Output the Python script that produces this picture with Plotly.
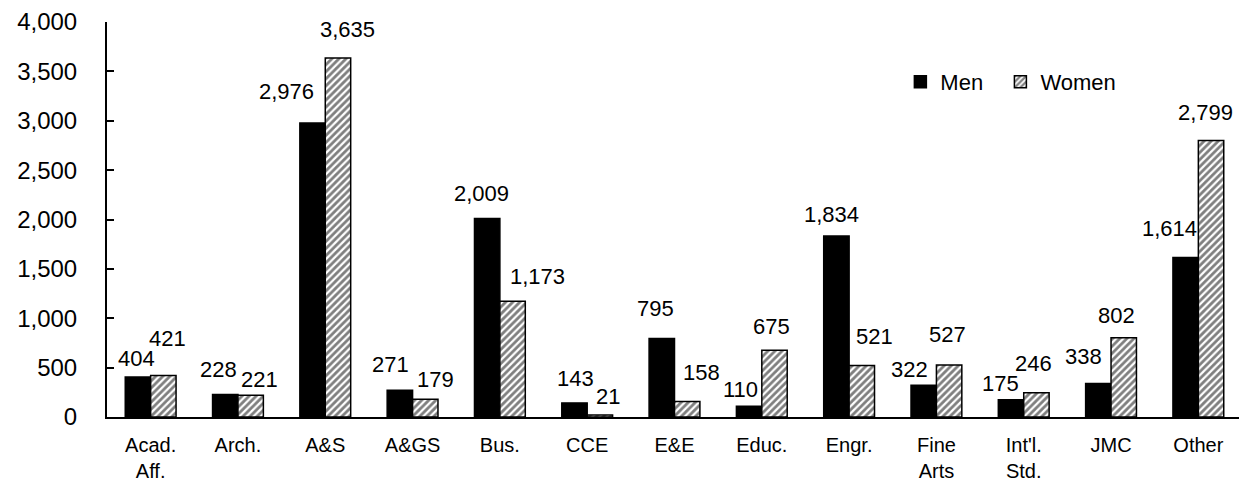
import plotly.graph_objects as go

categories = ["Acad.<br>Aff.", "Arch.", "A&S", "A&GS", "Bus.", "CCE", "E&E", "Educ.",
              "Engr.", "Fine<br>Arts", "Int'l.<br>Std.", "JMC", "Other"]
men = [404, 228, 2976, 271, 2009, 143, 795, 110, 1834, 322, 175, 338, 1614]
women = [421, 221, 3635, 179, 1173, 21, 158, 675, 521, 527, 246, 802, 2799]
y_ticks = [0, 500, 1000, 1500, 2000, 2500, 3000, 3500, 4000]

# label placement nudges (pixels) mimicking the original's collision-avoided data labels
men_dx = [-1, -7, -26, -9, -6, 1, -6, -9, -5, -14, -11, -15, -16]
men_dy = [10, 16, 23, 17, 17, 16, 21, 8, 13, 7, 8, 19, 21]
women_dx = [4, 9, 10, 10, 25, 8, 14, -3, 13, -2, -3, -7, -6]
women_dy = [28, 7, 20, 11, 16, 10, 20, 15, 21, 22, 21, 14, 20]

font = "Liberation Sans, Arial, sans-serif"
label_size = 22
bar_half = 12.7   # half of one bar's pixel width (offset of each bar from the category centre)
base_pad = 6      # distance from the annotation box bottom to the glyph baseline

fig = go.Figure()
fig.add_trace(go.Bar(
    name="Men&nbsp;&nbsp;", x=categories, y=men,
    marker=dict(color="black", line=dict(color="black", width=1.5)),
))
fig.add_trace(go.Bar(
    name="Women", x=categories, y=women,
    marker=dict(color="white", line=dict(color="black", width=1.5),
                pattern=dict(shape="/", fgcolor="black", bgcolor="white", size=5, solidity=0.55)),
))

for i, c in enumerate(categories):
    fig.add_annotation(x=c, y=men[i], text=f"{men[i]:,}", showarrow=False,
                       xanchor="center", yanchor="bottom",
                       xshift=-bar_half + men_dx[i], yshift=men_dy[i] - base_pad,
                       font=dict(size=label_size, color="black", family=font))
    fig.add_annotation(x=c, y=women[i], text=f"{women[i]:,}", showarrow=False,
                       xanchor="center", yanchor="bottom",
                       xshift=bar_half + women_dx[i], yshift=women_dy[i] - base_pad,
                       font=dict(size=label_size, color="black", family=font))

# page body has an 8px default margin, so the figure is sized/margined to compensate
fig.update_layout(
    width=1239, height=474,
    barmode="group", bargap=0.418, bargroupgap=0,
    plot_bgcolor="white", paper_bgcolor="white",
    margin=dict(l=99, r=5, t=14, b=65),
    font=dict(family=font, size=22, color="black"),
    showlegend=True,
    legend=dict(orientation="h", x=0.699, y=0.848, xanchor="left", yanchor="middle",
                font=dict(size=22, family=font), bgcolor="rgba(0,0,0,0)"),
    yaxis=dict(range=[0, 4000], tickvals=y_ticks, tickformat=",", showgrid=False,
               showline=True, linecolor="black", linewidth=2, ticks="inside",
               ticklen=7, tickwidth=2, tickcolor="black", tickfont=dict(size=24),
               ticklabelstandoff=23, zeroline=False, automargin=False),
    xaxis=dict(showline=True, linecolor="black", linewidth=2, ticks="",
               tickfont=dict(size=20), showgrid=False, ticklabelstandoff=9,
               automargin=False),
)

fig.write_html("out.html")
